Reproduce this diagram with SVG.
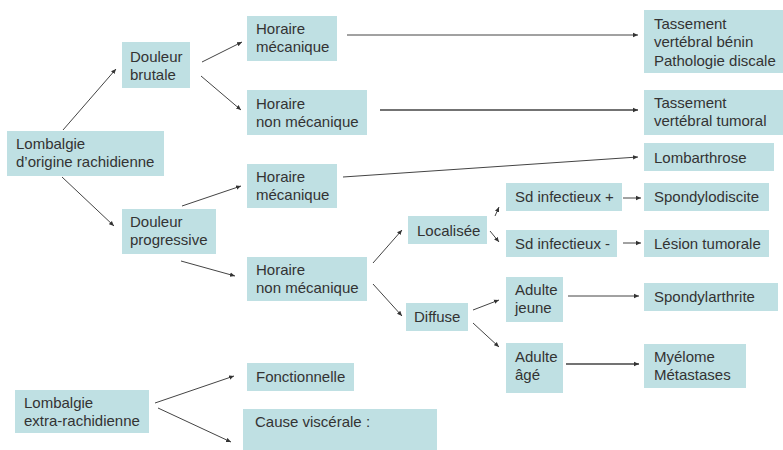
<svg xmlns="http://www.w3.org/2000/svg" width="783" height="450" viewBox="0 0 783 450">
<defs>
<marker id="ah" markerUnits="userSpaceOnUse" markerWidth="6" markerHeight="6" refX="5" refY="3" orient="auto">
<path d="M0,0.8 L5,3 L0,5.2 Z" fill="#333"/>
</marker>
<style>
.box{fill:#bfe0e3}
text{font-family:"Liberation Sans",Arial,sans-serif;font-size:15px;fill:#333}
.c line{stroke:#444;stroke-width:1;marker-end:url(#ah)}
.c line.t{stroke-width:1.6}
</style>
</defs>
<rect width="783" height="450" fill="#fff"/>
<g class="c" id="connectors">
<line x1="63" y1="130" x2="116" y2="69"/>
<line x1="62" y1="177" x2="114" y2="226"/>
<line x1="202" y1="62" x2="242" y2="42"/>
<line x1="201" y1="76" x2="241" y2="110"/>
<line x1="182" y1="206" x2="241" y2="186"/>
<line x1="181" y1="261" x2="235" y2="276"/>
<line x1="347" y1="35" x2="638" y2="35"/>
<line class="t" x1="380" y1="110" x2="638" y2="110"/>
<line x1="343" y1="177" x2="638" y2="157"/>
<line x1="373" y1="263" x2="402" y2="230"/>
<line x1="373" y1="284" x2="402" y2="316"/>
<line x1="495" y1="216" x2="499" y2="207"/>
<line x1="490" y1="231" x2="499" y2="242"/>
<line x1="623" y1="198" x2="641" y2="198"/>
<line x1="623" y1="243" x2="641" y2="243"/>
<line x1="473" y1="310" x2="499" y2="300"/>
<line x1="473" y1="323" x2="499" y2="347"/>
<line x1="568" y1="296" x2="639" y2="296"/>
<line class="t" x1="566" y1="364" x2="639" y2="364"/>
<line x1="155" y1="403" x2="234" y2="376"/>
<line x1="158" y1="408" x2="231" y2="442"/>
</g>
<g id="lombalgie-rachi"><rect class="box" x="7" y="131" width="157" height="45"/><text x="16" y="149">Lombalgie</text><text x="16" y="167">d’origine rachidienne</text></g>
<g id="douleur-brutale"><rect class="box" x="122" y="42" width="68" height="46"/><text x="130" y="62">Douleur</text><text x="130" y="80">brutale</text></g>
<g id="douleur-progressive"><rect class="box" x="122" y="209" width="94" height="45"/><text x="130" y="227">Douleur</text><text x="130" y="245">progressive</text></g>
<g id="horaire-meca-1"><rect class="box" x="247" y="16" width="90" height="45"/><text x="256" y="34">Horaire</text><text x="256" y="52">mécanique</text></g>
<g id="horaire-nonmeca-1"><rect class="box" x="247" y="90" width="120" height="45"/><text x="256" y="109">Horaire</text><text x="256" y="127">non mécanique</text></g>
<g id="horaire-meca-2"><rect class="box" x="247" y="164" width="90" height="44"/><text x="256" y="182">Horaire</text><text x="256" y="200">mécanique</text></g>
<g id="horaire-nonmeca-2"><rect class="box" x="247" y="257" width="120" height="44"/><text x="256" y="275">Horaire</text><text x="256" y="293">non mécanique</text></g>
<g id="tassement-benin"><rect class="box" x="644" y="10" width="139" height="63"/><text x="654" y="29">Tassement</text><text x="654" y="47">vertébral bénin</text><text x="654" y="66">Pathologie discale</text></g>
<g id="tassement-tumoral"><rect class="box" x="644" y="90" width="139" height="45"/><text x="654" y="108">Tassement</text><text x="654" y="126">vertébral tumoral</text></g>
<g id="lombarthrose"><rect class="box" x="644" y="143" width="130" height="28"/><text x="654" y="163">Lombarthrose</text></g>
<g id="localisee"><rect class="box" x="408" y="216" width="79" height="28"/><text x="417" y="236">Localisée</text></g>
<g id="diffuse"><rect class="box" x="406" y="303" width="62" height="28"/><text x="414" y="322">Diffuse</text></g>
<g id="sd-plus"><rect class="box" x="506" y="183" width="116" height="28"/><text x="515" y="202">Sd infectieux +</text></g>
<g id="sd-moins"><rect class="box" x="506" y="230" width="111" height="27"/><text x="515" y="249">Sd infectieux -</text></g>
<g id="spondylodiscite"><rect class="box" x="644" y="183" width="125" height="28"/><text x="654" y="202">Spondylodiscite</text></g>
<g id="lesion-tumorale"><rect class="box" x="644" y="230" width="125" height="27"/><text x="654" y="249">Lésion tumorale</text></g>
<g id="adulte-jeune"><rect class="box" x="506" y="277" width="57" height="45"/><text x="515" y="295">Adulte</text><text x="515" y="313">jeune</text></g>
<g id="adulte-age"><rect class="box" x="506" y="343" width="57" height="50"/><text x="515" y="362">Adulte</text><text x="515" y="380">âgé</text></g>
<g id="spondylarthrite"><rect class="box" x="644" y="283" width="134" height="28"/><text x="654" y="302">Spondylarthrite</text></g>
<g id="myelome"><rect class="box" x="644" y="344" width="102" height="44"/><text x="654" y="362">Myélome</text><text x="654" y="380">Métastases</text></g>
<g id="lombalgie-extra"><rect class="box" x="15" y="390" width="134" height="43"/><text x="24" y="408">Lombalgie</text><text x="24" y="426">extra-rachidienne</text></g>
<g id="fonctionnelle"><rect class="box" x="247" y="363" width="107" height="28"/><text x="256" y="382">Fonctionnelle</text></g>
<g id="cause-viscerale"><rect class="box" x="243" y="409" width="194" height="41"/><text x="255" y="427">Cause viscérale :</text></g>
</svg>
